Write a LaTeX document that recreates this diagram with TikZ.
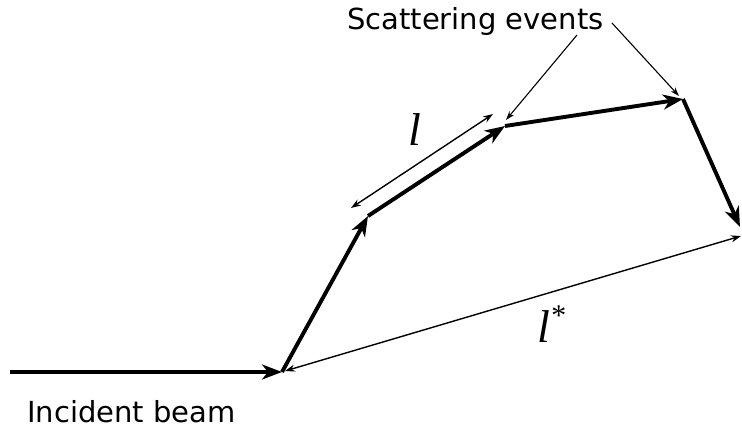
\documentclass[tikz,border=0pt]{standalone}
\usepackage{fontspec}
\setmainfont{DejaVu Sans}
\newfontfamily\timesit{Liberation Serif}[UprightFont=*-Italic]
\usetikzlibrary{arrows.meta}
\tikzset{
 beam/.style={line width=3.9pt, -{Stealth[length=20pt,width=15pt,inset=6pt]}},
 dimarrow/.style={line width=1.4pt, {Stealth[length=10pt,width=7pt]}-{Stealth[length=10pt,width=7pt]}},
 pointer/.style={line width=1.1pt, -{Stealth[length=9pt,width=6pt]}},
 lab/.style={inner sep=0pt, font=\fontsize{29}{29}\selectfont},
 symlab/.style={inner sep=0pt, anchor=base west, font=\timesit\fontsize{46}{46}\selectfont},
}
\begin{document}
\begin{tikzpicture}[x=1pt,y=-1pt]
\useasboundingbox (0,0) rectangle (742,428);
% vertices of the path
\coordinate (p0) at (10,372);
\coordinate (p1) at (282,372);
\coordinate (p2) at (368,216);
\coordinate (p3) at (505,126);
\coordinate (p4) at (683,99);
\coordinate (p5) at (740,227);
% thick beam path
\draw[beam] (p0) -- (p1);
\draw[beam] (p1) -- (p2);
\draw[beam] (p2) -- (p3);
\draw[beam] (p3) -- (p4);
\draw[beam] (p4) -- (p5);
% dimension arrows
\coordinate (la) at (351,208);
\coordinate (lb) at (493,114);
\draw[dimarrow] (la) -- (lb);
\coordinate (sa) at (285,371);
\coordinate (sb) at (741,236);
\draw[dimarrow] (sa) -- (sb);
% labels
\node[lab, anchor=base west] (inc) at (27,422) {Incident beam};
\node[lab, anchor=base west] (scat) at (347,30) {Scattering events};
\node[symlab] (lbl) at (408,145) {l};
\node[symlab] (lstar) at (537,342) {l\raisebox{17pt}{\fontsize{30}{30}\selectfont *}};
% pointers
\coordinate (q1) at (577,35);
\coordinate (q2) at (612,23);
\coordinate (e1) at (506,120);
\coordinate (e2) at (679,96);
\draw[pointer] (q1) -- (e1);
\draw[pointer] (q2) -- (e2);
\end{tikzpicture}
\end{document}
